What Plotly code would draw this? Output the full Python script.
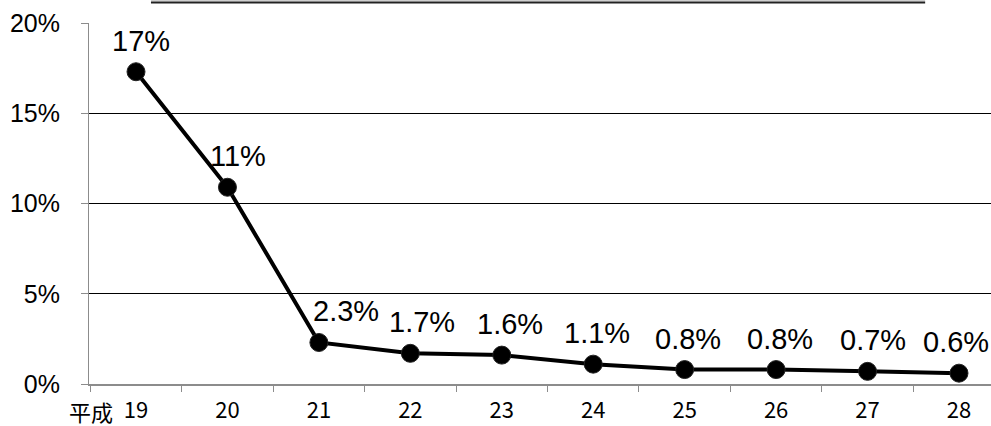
import plotly.graph_objects as go

# 年度（平成）と比率
era = "平成"
years = ["19", "20", "21", "22", "23", "24", "25", "26", "27", "28"]
rates = [0.173, 0.109, 0.023, 0.017, 0.016, 0.011, 0.008, 0.008, 0.007, 0.006]
y_ticks = [0, 0.05, 0.10, 0.15, 0.20]
y_tick_text = ["0%", "5%", "10%", "15%", "20%"]

labels = [f"{v * 100:.2g}%" for v in rates]
xs = list(range(len(years)))

# ラベルが線と重ならないよう横にずらす量（ピクセル）
label_nudge = [5, 11, 27, 12, 8, 4, 3, 4, 5, -3]

fig = go.Figure()
fig.add_trace(go.Scatter(
    x=xs, y=rates, mode="lines+markers",
    line=dict(color="black", width=4),
    marker=dict(color="black", size=18, line=dict(color="#222", width=1)),
    cliponaxis=False, showlegend=False,
))

for xi, v, lab, dx in zip(xs, rates, labels, label_nudge):
    fig.add_annotation(
        x=xi, y=v, xref="x", yref="y", text=lab, showarrow=False,
        xanchor="center", yanchor="middle", xshift=dx, yshift=31,
        font=dict(family="Liberation Sans, Arial, sans-serif", size=29, color="black"),
    )

fig.update_layout(
    width=991, height=426,
    margin=dict(l=89, r=0, t=23, b=42, autoexpand=False),
    paper_bgcolor="white", plot_bgcolor="white",
    xaxis=dict(
        range=[-0.514, 9.35], automargin=False,
        tickvals=xs, ticktext=years,
        ticks="", showgrid=False, zeroline=False,
        showline=True, linecolor="#8c8c8c", linewidth=2,
        ticklabelstandoff=6,
        tickfont=dict(family="Noto Sans CJK JP", size=22, color="black"),
        minor=dict(tick0=0.5, dtick=1, ticks="outside", ticklen=6,
                   tickcolor="#8c8c8c", tickwidth=1, showgrid=False),
    ),
    yaxis=dict(
        range=[0, 0.20], automargin=False,
        tickvals=y_ticks, ticktext=y_tick_text,
        ticks="outside", ticklen=7, tickcolor="#8c8c8c", tickwidth=1,
        ticklabelstandoff=16,
        showgrid=True, gridcolor="black", gridwidth=1,
        zeroline=False,
        showline=True, linecolor="#8c8c8c", linewidth=1,
        tickfont=dict(family="Liberation Sans, Arial, sans-serif", size=25, color="black"),
    ),
)

# 年号の表示
fig.add_annotation(
    x=0, y=0, xref="x", yref="y", text=era, showarrow=False,
    xanchor="right", yanchor="middle", xshift=-21, yshift=-27,
    font=dict(family="Noto Sans CJK JP", size=22, color="black"),
)

# 表題の下線
fig.add_shape(type="line", xref="paper", yref="paper",
              x0=0.0687, x1=0.927, y0=1.0615, y1=1.0615,
              line=dict(color="#bbbbbb", width=1))
fig.add_shape(type="line", xref="paper", yref="paper",
              x0=0.0687, x1=0.927, y0=1.057, y1=1.057,
              line=dict(color="#222", width=2))

fig.write_html("out.html")
